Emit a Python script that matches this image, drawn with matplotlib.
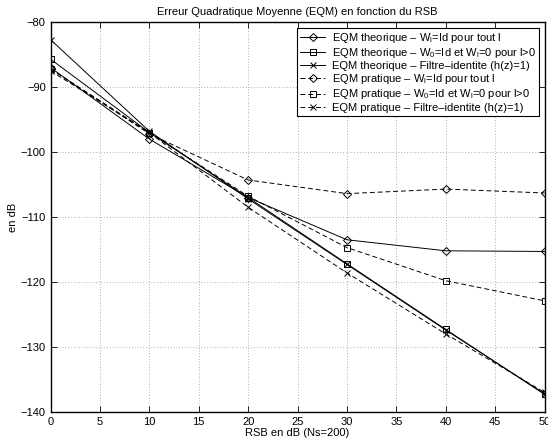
import numpy as np
import matplotlib
matplotlib.use('Agg')
import matplotlib.pyplot as plt

plt.rcParams['font.family'] = ['Liberation Sans', 'DejaVu Sans']
plt.rcParams['font.size'] = 8
plt.rcParams['mathtext.fontset'] = 'custom'
plt.rcParams['mathtext.rm'] = 'Liberation Sans'
plt.rcParams['mathtext.it'] = 'Liberation Sans'

rsb = [0, 10, 20, 30, 40, 50]

theo_wl = [-87.0, -98.0, -107.0, -113.5, -115.2, -115.3]
theo_w0 = [-85.7, -97.0, -107.0, -117.2, -127.3, -137.3]
theo_id = [-82.7, -96.8, -107.2, -117.3, -127.4, -137.2]
prat_wl = [-87.2, -97.2, -104.3, -106.4, -105.7, -106.3]
prat_w0 = [-87.2, -97.0, -106.8, -114.7, -119.8, -122.9]
prat_id = [-87.5, -97.0, -108.5, -118.6, -128.0, -137.0]

labels = [
    'EQM theorique \u2013 W$_\\mathregular{l}$=Id pour tout l',
    'EQM theorique \u2013 W$_\\mathregular{0}$=Id et W$_\\mathregular{l}$=0 pour l>0',
    'EQM theorique \u2013 Filtre\u2013identite (h(z)=1)',
    'EQM pratique \u2013 W$_\\mathregular{l}$=Id pour tout l',
    'EQM pratique \u2013 W$_\\mathregular{0}$=Id et W$_\\mathregular{l}$=0 pour l>0',
    'EQM pratique \u2013 Filtre\u2013identite (h(z)=1)',
]

fig = plt.figure(figsize=(5.48, 4.42), dpi=100)
ax = fig.add_axes([0.0922, 0.068, 0.9015, 0.882])

series = [theo_wl, theo_w0, theo_id, prat_wl, prat_w0, prat_id]
markers = ['D', 's', 'x', 'D', 's', 'x']
styles = ['-', '-', '-', '--', '--', '--']
for s, m, ls, lab in zip(series, markers, styles, labels):
    ax.plot(rsb, s, color='k', linestyle=ls, linewidth=0.7, marker=m,
            markersize=5 if m != 'D' else 4.5, markerfacecolor='none',
            markeredgecolor='k', markeredgewidth=0.7, label=lab,
            dashes=(5, 3) if ls == '--' else (None, None))

ax.set_xlim(0, 50)
ax.set_ylim(-140, -80)
ax.set_xticks(np.arange(0, 51, 5))
ax.set_yticks(np.arange(-140, -79, 10))
ax.grid(True, linestyle=(0, (1, 3)), color='k', linewidth=0.5, alpha=0.6)
ax.tick_params(direction='in', length=4, width=0.6, top=True, right=True, labelsize=8)
for sp in ax.spines.values():
    sp.set_linewidth(1.0)

ax.set_xlabel('RSB en dB (Ns=200)', labelpad=1)
ax.set_ylabel('en dB', labelpad=2)
ax.set_title('Erreur Quadratique Moyenne (EQM) en fonction du RSB', fontsize=8, pad=5)

leg = ax.legend(loc='upper right', fancybox=False, edgecolor='k', framealpha=1,
                borderpad=0.3, labelspacing=0.1, handlelength=2.2, handletextpad=0.6,
                borderaxespad=0.5, fontsize=8)
leg.get_frame().set_linewidth(0.8)

fig.savefig('out.png', dpi=100)
